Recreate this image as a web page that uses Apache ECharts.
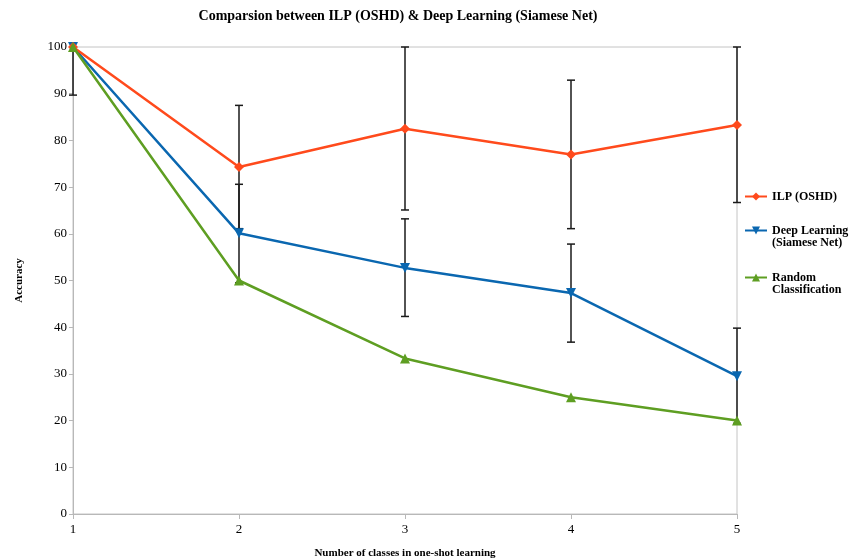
<!DOCTYPE html>
<html>
<head>
<meta charset="utf-8">
<script src="https://cdn.jsdelivr.net/npm/echarts@6/dist/echarts.min.js"></script>
<style>
  html, body { margin: 0; padding: 0; background: #fff; }
  #chart { width: 851px; height: 559px; }
</style>
</head>
<body>
<div id="chart"></div>
<script>
const classes = ['1', '2', '3', '4', '5']
const yTicks = [0, 10, 20, 30, 40, 50, 60, 70, 80, 90, 100]

const ilpAcc = [100, 74.3, 82.5, 77.0, 83.3]
const deepAcc = [100, 60.1, 52.7, 47.3, 29.5]
const randomAcc = [100, 50, 33.3, 25, 20]

// [low, high] of each error bar, null where none is drawn
const ilpErr = [[89.7, 100], [61.1, 87.5], [65.1, 100], [61.1, 92.9], [66.7, 100]]
const deepErr = [null, [49.5, 70.6], [42.3, 63.2], [36.8, 57.8], [19.4, 39.8]]

const FONT = '"Liberation Serif", "Times New Roman", serif'

const toBars = errs => errs
  .map((e, i) => (e ? [i, e[0], e[1]] : null))
  .filter(Boolean)

const errorBarItem = (params, api) => {
  const x = api.value(0)
  const lo = api.coord([x, api.value(1)])
  const hi = api.coord([x, api.value(2)])
  const cap = 4
  const style = { stroke: '#1a1a1a', lineWidth: 1.5 }
  return {
    type: 'group',
    children: [
      { type: 'line', shape: { x1: hi[0], y1: hi[1], x2: lo[0], y2: lo[1] }, style },
      { type: 'line', shape: { x1: hi[0] - cap, y1: hi[1], x2: hi[0] + cap, y2: hi[1] }, style },
      { type: 'line', shape: { x1: lo[0] - cap, y1: lo[1], x2: lo[0] + cap, y2: lo[1] }, style }
    ]
  }
}

const legendText = { fontFamily: FONT, fontSize: 12, fontWeight: 'bold', color: '#000', lineHeight: 13 }

const legendBase = {
  orient: 'vertical',
  left: 744,
  padding: 0,
  itemWidth: 22,
  itemHeight: 10,
  itemGap: 0,
  selectedMode: false,
  textStyle: legendText
}

// second line of the two-line legend entries
const legendSecondLine = (text, top) => ({
  type: 'text',
  left: 772,
  top,
  style: { text, font: 'bold 12px ' + FONT, fill: '#000' }
})

const chart = echarts.init(document.getElementById('chart'))

const option = {
  animation: false,
  backgroundColor: '#fff',
  title: {
    text: 'Comparsion between ILP (OSHD) & Deep Learning (Siamese Net)',
    left: 393,
    textAlign: 'center',
    top: 4,
    textStyle: { fontFamily: FONT, fontSize: 14, fontWeight: 'bold', color: '#000' }
  },
  legend: [
    { ...legendBase, top: 190, data: ['ILP (OSHD)'] },
    { ...legendBase, top: 224, data: ['Deep Learning'] },
    { ...legendBase, top: 271, data: ['Random'] }
  ],
  graphic: [
    legendSecondLine('(Siamese Net)', 237),
    legendSecondLine('Classification', 284)
  ],
  grid: {
    left: 73,
    right: 114,
    top: 47,
    bottom: 45,
    outerBoundsMode: 'none',
    show: true,
    borderColor: '#c4c4c4',
    borderWidth: 1
  },
  xAxis: {
    type: 'category',
    data: classes,
    boundaryGap: false,
    name: 'Number of classes in one-shot learning',
    nameLocation: 'middle',
    nameGap: 34,
    nameTextStyle: { fontFamily: FONT, fontSize: 11, fontWeight: 'bold', color: '#000' },
    axisLine: { lineStyle: { color: '#b8b8b8', width: 1 } },
    axisTick: { show: true, length: 5, lineStyle: { color: '#b8b8b8' } },
    axisLabel: { fontFamily: FONT, fontSize: 13, color: '#000', margin: 9 },
    splitLine: { show: false }
  },
  yAxis: {
    type: 'value',
    min: yTicks[0],
    max: yTicks[yTicks.length - 1],
    interval: 10,
    name: 'Accuracy',
    nameLocation: 'middle',
    nameGap: 48,
    nameTextStyle: { fontFamily: FONT, fontSize: 11, fontWeight: 'bold', color: '#000' },
    axisLine: { show: true, lineStyle: { color: '#b8b8b8', width: 1 } },
    axisTick: { show: true, length: 4, lineStyle: { color: '#b8b8b8' } },
    axisLabel: { fontFamily: FONT, fontSize: 13, color: '#000', margin: 6 },
    splitLine: { show: false }
  },
  series: [
    {
      type: 'custom',
      renderItem: errorBarItem,
      data: toBars(ilpErr),
      encode: { x: 0, y: [1, 2] },
      z: 1,
      silent: true
    },
    {
      type: 'custom',
      renderItem: errorBarItem,
      data: toBars(deepErr),
      encode: { x: 0, y: [1, 2] },
      z: 1,
      silent: true
    },
    {
      name: 'ILP (OSHD)',
      type: 'line',
      data: ilpAcc,
      symbol: 'diamond',
      symbolSize: 10,
      color: '#ff4a1c',
      lineStyle: { width: 2.5 },
      z: 4
    },
    {
      name: 'Deep Learning',
      type: 'line',
      data: deepAcc,
      symbol: 'triangle',
      symbolRotate: 180,
      symbolSize: 10,
      color: '#0a67b0',
      lineStyle: { width: 2.5 },
      z: 3
    },
    {
      name: 'Random',
      type: 'line',
      data: randomAcc,
      symbol: 'triangle',
      symbolSize: 10,
      color: '#5e9e22',
      lineStyle: { width: 2.5 },
      z: 5
    }
  ]
}

chart.setOption(option)
</script>
</body>
</html>
